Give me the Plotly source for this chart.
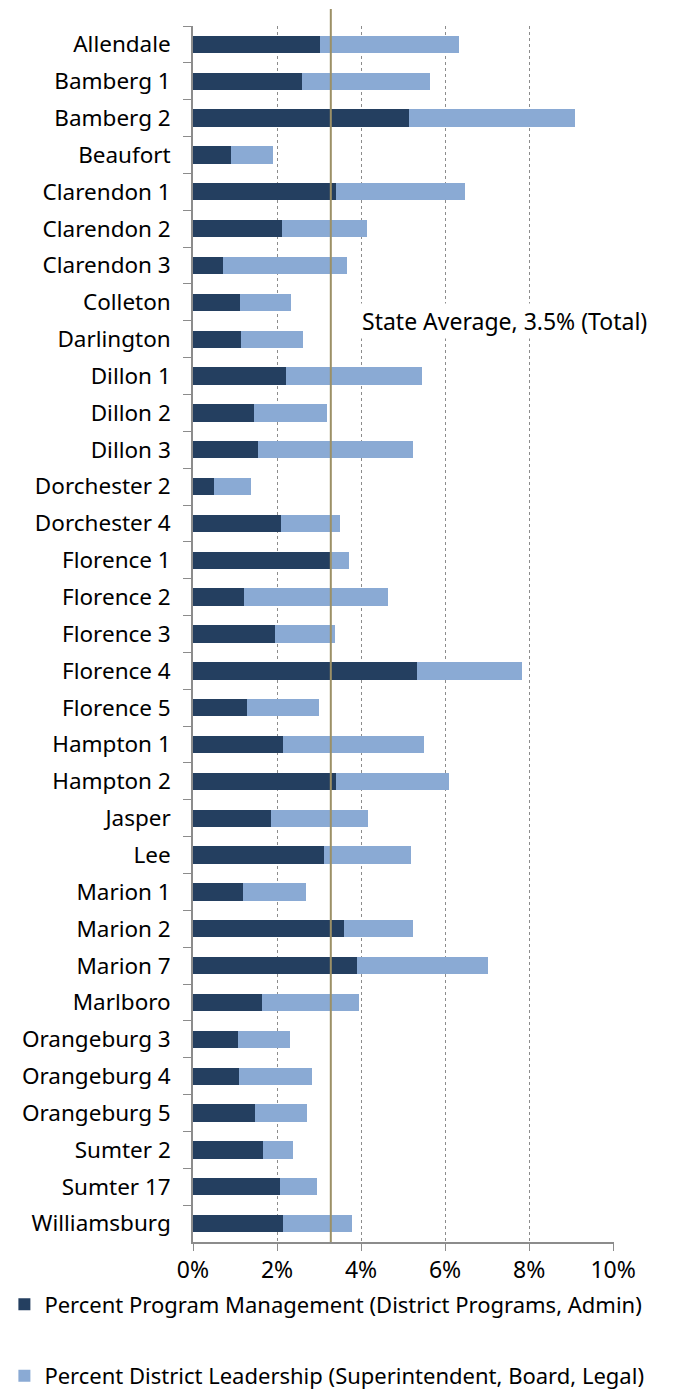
import plotly.graph_objects as go

districts = ["Allendale", "Bamberg 1", "Bamberg 2", "Beaufort", "Clarendon 1", "Clarendon 2",
             "Clarendon 3", "Colleton", "Darlington", "Dillon 1", "Dillon 2", "Dillon 3",
             "Dorchester 2", "Dorchester 4", "Florence 1", "Florence 2", "Florence 3",
             "Florence 4", "Florence 5", "Hampton 1", "Hampton 2", "Jasper", "Lee",
             "Marion 1", "Marion 2", "Marion 7", "Marlboro", "Orangeburg 3", "Orangeburg 4",
             "Orangeburg 5", "Sumter 2", "Sumter 17", "Williamsburg"]

program_mgmt = [3.02, 2.59, 5.15, 0.90, 3.40, 2.11, 0.71, 1.12, 1.14, 2.21, 1.45, 1.54,
                0.50, 2.09, 3.25, 1.21, 1.95, 5.34, 1.28, 2.14, 3.40, 1.85, 3.11,
                1.19, 3.59, 3.90, 1.64, 1.07, 1.09, 1.47, 1.66, 2.07, 2.14]

totals = [6.34, 5.63, 9.10, 1.90, 6.48, 4.13, 3.66, 2.33, 2.61, 5.46, 3.18, 5.23,
          1.38, 3.49, 3.71, 4.63, 3.37, 7.84, 2.99, 5.49, 6.10, 4.16, 5.20,
          2.68, 5.23, 7.01, 3.94, 2.30, 2.83, 2.71, 2.38, 2.95, 3.78]

district_leadership = [round(t - p, 2) for t, p in zip(totals, program_mgmt)]

state_avg_line = 3.28
state_avg_label = "State Average, 3.5% (Total)"
x_ticks = [0, 2, 4, 6, 8, 10]
x_tick_labels = ["0%", "2%", "4%", "6%", "8%", "10%"]

FONT = "Noto Sans"

fig = go.Figure()
fig.add_trace(go.Bar(
    y=districts, x=program_mgmt, orientation="h",
    name="Percent Program Management (District Programs, Admin)",
    marker=dict(color="#243F60", line=dict(width=0)),
    legendgroup="a",
))
fig.add_trace(go.Bar(
    y=districts, x=district_leadership, orientation="h",
    name="Percent District Leadership (Superintendent, Board, Legal)",
    marker=dict(color="#8AAAD4", line=dict(width=0)),
    legendgroup="b",
))

fig.add_shape(type="line", xref="x", yref="paper",
              x0=state_avg_line, x1=state_avg_line, y0=0, y1=1.014,
              line=dict(color="#9C9066", width=2), layer="above")

fig.add_annotation(x=3.97, y=7.5, xref="x", yref="y", text=state_avg_label,
                   showarrow=False, xanchor="left", yanchor="middle",
                   bgcolor="white", font=dict(family=FONT, size=23, color="black"),
                   borderpad=1)

fig.update_layout(
    barmode="stack",
    bargap=0.53,
    width=678, height=1392,
    margin=dict(l=193, r=64, t=26, b=150, autoexpand=False),
    plot_bgcolor="white", paper_bgcolor="white",
    font=dict(family=FONT, size=22, color="black"),
    showlegend=True,
    legend=dict(orientation="v", x=-0.448, xanchor="left", y=-0.034, yanchor="top",
                bgcolor="rgba(0,0,0,0)",
                font=dict(family=FONT, size=22, color="black"),
                tracegroupgap=40, traceorder="grouped"),
)

fig.update_yaxes(
    type="category", autorange="reversed",
    showline=True, linecolor="#8c8c8c", linewidth=1.5,
    ticks="outside", ticklen=8, tickcolor="#8c8c8c", tickson="boundaries",
    ticklabelstandoff=16,
    showgrid=False,
    tickfont=dict(family=FONT, size=22.5, color="black"),
)

fig.update_xaxes(
    range=[0, 10.02], tickvals=x_ticks, ticktext=x_tick_labels,
    showline=True, linecolor="#8c8c8c", linewidth=1.5,
    ticks="outside", ticklen=7, tickcolor="#8c8c8c",
    showgrid=True, gridcolor="#8c8c8c", griddash="dot", gridwidth=1,
    zeroline=False,
    tickfont=dict(family=FONT, size=23, color="black"),
)

fig.write_html("out.html", config={"displayModeBar": False},
               post_script="document.body.style.margin='0';")
